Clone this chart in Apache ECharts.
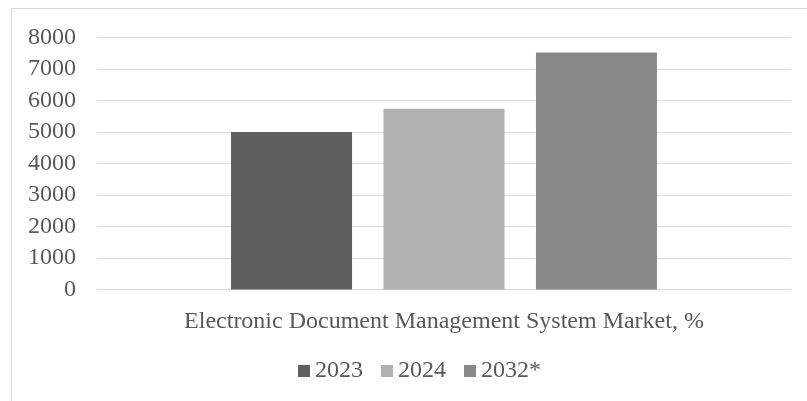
<!DOCTYPE html>
<html>
<head>
<meta charset="utf-8">
<script src="https://cdn.jsdelivr.net/npm/echarts@6/dist/echarts.min.js"></script>
<style>
  html, body { margin: 0; padding: 0; background: #fff; }
  #chart { width: 807px; height: 401px; }
</style>
</head>
<body>
<div id="chart"></div>
<script>
// data
var categories = ['Electronic Document Management System Market, %']
var seriesNames = ['2023', '2024', '2032*']
var values2023 = [5000]
var values2024 = [5740]
var values2032 = [7520]
var yTicks = { min: 0, max: 8000, interval: 1000 }

var colors = ['#5f5f5f', '#b1b1b1', '#898989']
var textColor = '#595959'
var font = 'Liberation Serif'

var chart = echarts.init(document.getElementById('chart'))
chart.setOption({
  animation: false,
  textStyle: { fontFamily: font },
  graphic: [{
    type: 'rect',
    shape: { x: 11.5, y: 8.5, width: 900, height: 500 },
    style: { fill: 'none', stroke: '#d9d9d9', lineWidth: 1 },
    silent: true
  }],
  grid: {
    left: 97,
    right: 16,
    top: 37.5,
    bottom: 111.5
  },
  legend: {
    data: seriesNames,
    top: 354,
    left: 293,
    icon: 'rect',
    itemWidth: 12,
    itemHeight: 12,
    itemGap: 18,
    textStyle: { color: textColor, fontSize: 24, fontFamily: font }
  },
  xAxis: {
    type: 'category',
    data: categories,
    axisTick: { show: false },
    axisLine: { lineStyle: { color: '#d9d9d9', width: 1 } },
    axisLabel: { color: textColor, fontSize: 24, margin: 20, fontFamily: font }
  },
  yAxis: {
    type: 'value',
    min: yTicks.min,
    max: yTicks.max,
    interval: yTicks.interval,
    axisLine: { show: false },
    axisTick: { show: false },
    splitLine: { lineStyle: { color: '#d9d9d9', width: 1 } },
    axisLabel: {
      color: textColor, fontSize: 24, margin: 21, fontFamily: font,
      formatter: function (v) { return String(v) }
    }
  },
  series: [
    { name: seriesNames[0], type: 'bar', data: values2023, barWidth: 121, barGap: '26%', itemStyle: { color: colors[0] } },
    { name: seriesNames[1], type: 'bar', data: values2024, barWidth: 121, barGap: '26%', itemStyle: { color: colors[1] } },
    { name: seriesNames[2], type: 'bar', data: values2032, barWidth: 121, barGap: '26%', itemStyle: { color: colors[2] } }
  ]
})
</script>
</body>
</html>
